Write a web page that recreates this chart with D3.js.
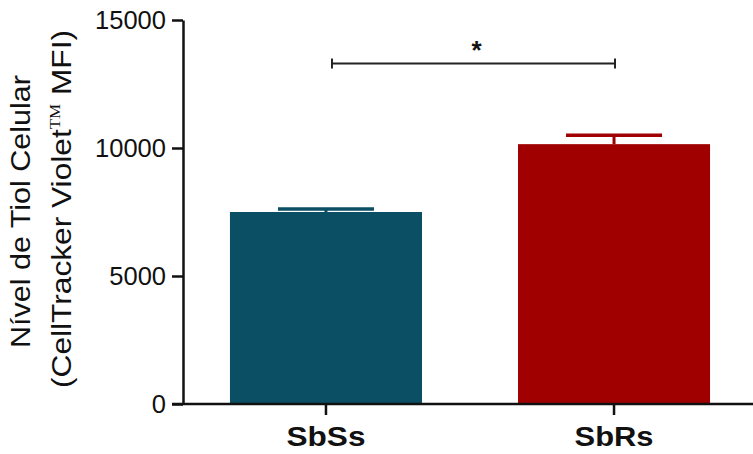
<!DOCTYPE html>
<html>
<head>
<meta charset="utf-8">
<script src="https://cdn.jsdelivr.net/npm/d3@7"></script>
<style>
  body { margin: 0; background: #fff; }
  svg { display: block; }
  text { font-family: "Liberation Sans", Arial, sans-serif; fill: #111; }
</style>
</head>
<body>
<svg id="chart"></svg>
<script>
// data
var categories = ["SbSs", "SbRs"];
var means = [7500, 10150];
var errors = [120, 350];
var colors = ["#0a4f63", "#a00000"];
var yTicks = [0, 5000, 10000, 15000];
var sigLevel = 13300;
var sigLabel = "*";

var W = 753, H = 454;
var margin = {top: 20, left: 183, bottom: 50};
var height = H - margin.top - margin.bottom;

var svg = d3.select("#chart").attr("width", W).attr("height", H);
var g = svg.append("g").attr("transform", "translate(" + margin.left + "," + margin.top + ")");

var x = d3.scaleBand()
  .domain(categories)
  .range([0, 574])
  .paddingInner(1 / 3)
  .paddingOuter(0.163);

var y = d3.scaleLinear().domain([0, 15000]).range([height, 0]);

var bw = x.bandwidth();

// bars
g.selectAll("rect.bar")
  .data(categories)
  .enter().append("rect")
    .attr("class", "bar")
    .attr("x", function(d) { return x(d); })
    .attr("width", bw)
    .attr("y", function(d, i) { return y(means[i]); })
    .attr("height", function(d, i) { return y(0) - y(means[i]); })
    .attr("fill", function(d, i) { return colors[i]; });

// error bars (upper only)
var eb = g.selectAll("g.err").data(categories).enter().append("g").attr("class", "err");
eb.append("line")
  .attr("x1", function(d) { return x(d) + bw / 2; })
  .attr("x2", function(d) { return x(d) + bw / 2; })
  .attr("y1", function(d, i) { return y(means[i]); })
  .attr("y2", function(d, i) { return y(means[i] + errors[i]); })
  .attr("stroke", function(d, i) { return colors[i]; })
  .attr("stroke-width", 3);
eb.append("line")
  .attr("x1", function(d) { return x(d) + bw / 4; })
  .attr("x2", function(d) { return x(d) + bw * 3 / 4; })
  .attr("y1", function(d, i) { return y(means[i] + errors[i]); })
  .attr("y2", function(d, i) { return y(means[i] + errors[i]); })
  .attr("stroke", function(d, i) { return colors[i]; })
  .attr("stroke-width", 3.5);

// y axis
var yAxis = g.append("g")
  .call(d3.axisLeft(y).tickValues(yTicks).tickFormat(d3.format("d"))
    .tickSize(11).tickSizeOuter(0).tickPadding(6));
yAxis.select(".domain").attr("stroke", "#111").attr("stroke-width", 2.5);
yAxis.selectAll(".tick line").attr("stroke", "#111").attr("stroke-width", 2.5);
yAxis.selectAll(".tick text")
  .attr("font-size", 25.5)
  .attr("font-family", "Liberation Sans, Arial, sans-serif")
  .attr("fill", "#111");

// x axis
var xAxis = g.append("g")
  .attr("transform", "translate(0," + height + ")")
  .call(d3.axisBottom(x).tickSize(11).tickSizeOuter(0).tickPadding(12));
xAxis.select(".domain").remove();
xAxis.append("line")
  .attr("x1", -11).attr("x2", W - margin.left)
  .attr("stroke", "#111").attr("stroke-width", 2.5);
xAxis.selectAll(".tick line").attr("stroke", "#111").attr("stroke-width", 2.5);
xAxis.selectAll(".tick text")
  .attr("font-size", 27)
  .attr("font-weight", "bold")
  .attr("font-family", "Liberation Sans, Arial, sans-serif")
  .attr("fill", "#111")
  .attr("textLength", 79)
  .attr("lengthAdjust", "spacingAndGlyphs");

// significance bracket
var bx1 = x(categories[0]) + bw / 2 + 6,
    bx2 = x(categories[1]) + bw / 2 + 1,
    by = y(sigLevel);
var br = g.append("g").attr("stroke", "#222").attr("stroke-width", 2);
br.append("line").attr("x1", bx1).attr("x2", bx2).attr("y1", by).attr("y2", by);
br.append("line").attr("x1", bx1).attr("x2", bx1).attr("y1", by - 5).attr("y2", by + 5);
br.append("line").attr("x1", bx2).attr("x2", bx2).attr("y1", by - 5).attr("y2", by + 5);
g.append("text")
  .attr("x", (bx1 + bx2) / 2 + 3)
  .attr("y", by - 5)
  .attr("text-anchor", "middle")
  .attr("font-size", 26)
  .attr("font-weight", "bold")
  .text(sigLabel);

// y title, two lines
var cy = margin.top + height / 2;
var t1 = svg.append("text")
  .attr("transform", "translate(30," + (cy - 0.5) + ") rotate(-90)")
  .attr("text-anchor", "middle")
  .attr("font-size", 28)
  .attr("textLength", 273)
  .attr("lengthAdjust", "spacingAndGlyphs")
  .text("Nível de Tiol Celular");

var t2 = svg.append("text")
  .attr("transform", "translate(71," + (cy - 3) + ") rotate(-90)")
  .attr("text-anchor", "middle")
  .attr("font-size", 28)
  .attr("textLength", 358)
  .attr("lengthAdjust", "spacingAndGlyphs");
t2.append("tspan").text("(CellTracker Violet");
t2.append("tspan")
  .attr("font-family", "Liberation Serif, Times New Roman, serif")
  .attr("font-size", 15)
  .attr("dy", -11)
  .text("TM");
t2.append("tspan").attr("dy", 11).text(" MFI)");
</script>
</body>
</html>
